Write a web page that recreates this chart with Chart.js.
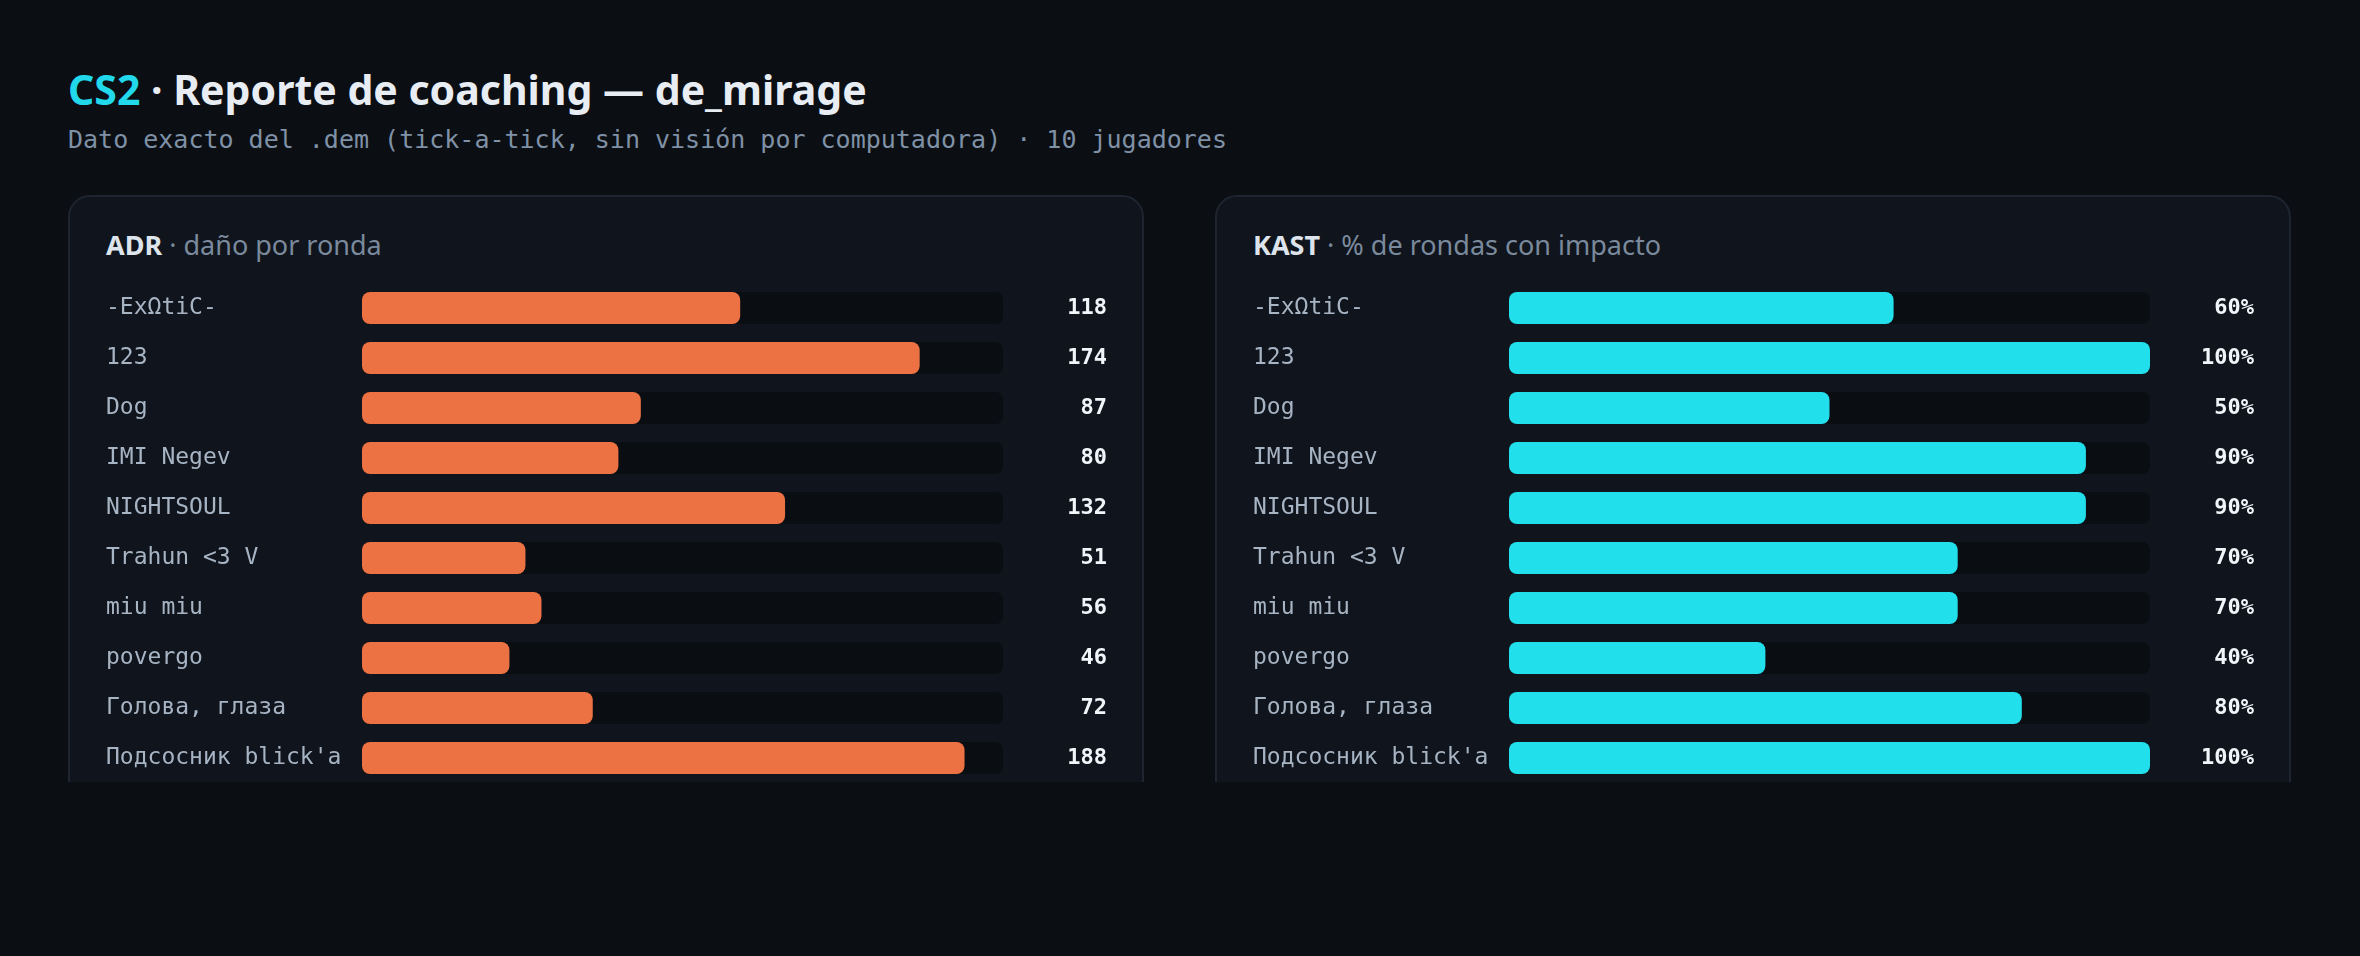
<!DOCTYPE html>
<html lang="es">
<head>
<meta charset="utf-8">
<title>CS2 · Reporte de coaching — de_mirage</title>
<script src="https://cdn.jsdelivr.net/npm/chart.js@4.4.1/dist/chart.umd.min.js"></script>
<style>
    html, body {
        margin: 0;
        padding: 0;
        background: #0b0e13;
        width: 2360px;
        height: 956px;
        overflow: hidden;
        font-family: "Noto Sans", sans-serif;
    }
    .title {
        position: absolute;
        left: 68px;
        top: 69px;
        font-size: 41px;
        line-height: 41px;
        font-weight: 700;
        color: #e8edf3;
        white-space: nowrap;
    }
    .title .accent { color: #22d9ec; }
    .subtitle {
        position: absolute;
        left: 68px;
        top: 127px;
        font-family: "DejaVu Sans Mono", monospace;
        font-size: 25px;
        line-height: 25px;
        color: #7f91a6;
        white-space: nowrap;
    }
    .clip {
        position: absolute;
        top: 195px;
        width: 1076px;
        height: 587px;
        overflow: hidden;
    }
    .card {
        position: relative;
        box-sizing: border-box;
        width: 1076px;
        height: 640px;
        background: #10141c;
        border: 2px solid #1e2530;
        border-radius: 22px;
    }
    .card h2 {
        position: absolute;
        left: 36px;
        top: 34px;
        margin: 0;
        font-size: 27px;
        line-height: 27px;
        font-weight: 400;
        color: #7a8a9c;
        white-space: nowrap;
    }
    .card h2 b { color: #dde4ec; font-weight: 700; }
    .chart-box {
        position: absolute;
        left: 36px;
        top: 86px;
        width: 1001px;
        height: 500px;
    }
</style>
</head>
<body>
<div class="title"><span class="accent">CS2</span> · Reporte de coaching — de_mirage</div>
<div class="subtitle">Dato exacto del .dem (tick-a-tick, sin visión por computadora) · 10 jugadores</div>

<div class="clip" style="left: 68px;">
    <div class="card">
        <h2><b>ADR</b> · daño por ronda</h2>
        <div class="chart-box"><canvas id="adrChart"></canvas></div>
    </div>
</div>

<div class="clip" style="left: 1215px;">
    <div class="card">
        <h2><b>KAST</b> · % de rondas con impacto</h2>
        <div class="chart-box"><canvas id="kastChart"></canvas></div>
    </div>
</div>

<script>
// Players, same order in both cards
const players = [
    '-ExΩtiC-',
    '123',
    'Dog',
    'IMI Negev',
    'NIGHTSOUL',
    'Trahun <3 V',
    'miu miu',
    'povergo',
    'Голова, глаза',
    "Подсосник blick'a"
];

// ADR (damage per round)
const adrValues = [118, 174, 87, 80, 132, 51, 56, 46, 72, 188];
const adrMax = 200;

// KAST (% of rounds with impact)
const kastValues = [60, 100, 50, 90, 90, 70, 70, 40, 80, 100];
const kastMax = 100;

const trackColor = '#0a0d12';
const labelColor = '#a7b4c4';
const valueColor = '#f1f5f9';

// Fix an axis to a set width and drop the label padding Chart.js adds top/bottom
function fixAxis(width) {
    return function(scale) {
        scale.width = width;
        scale.paddingTop = 0;
        scale.paddingBottom = 0;
    };
}

// Horizontal bar with a dark "track" behind each bar and the value on the right
function createBarCard(canvasId, values, max, color, valueLabels) {
    const ctx = document.getElementById(canvasId).getContext('2d');

    return new Chart(ctx, {
        type: 'bar',
        data: {
            labels: players,
            datasets: [
                {
                    label: 'value',
                    data: values,
                    backgroundColor: color,
                    borderRadius: 8,
                    borderSkipped: false
                },
                {
                    label: 'track',
                    data: players.map(() => max),
                    backgroundColor: trackColor,
                    borderRadius: 8,
                    borderSkipped: false
                }
            ]
        },
        options: {
            indexAxis: 'y',
            responsive: true,
            maintainAspectRatio: false,
            animation: false,
            layout: { padding: 0 },
            datasets: {
                bar: {
                    grouped: false,
                    categoryPercentage: 1,
                    barPercentage: 0.64
                }
            },
            plugins: {
                legend: { display: false },
                tooltip: { enabled: false }
            },
            scales: {
                x: {
                    display: false,
                    min: 0,
                    max: max
                },
                y: {
                    position: 'left',
                    grid: { display: false, drawTicks: false },
                    border: { display: false },
                    ticks: {
                        crossAlign: 'far',
                        color: labelColor,
                        padding: 0,
                        font: { family: 'DejaVu Sans Mono', size: 23 }
                    },
                    afterFit: fixAxis(256)
                },
                y2: {
                    type: 'category',
                    axis: 'y',
                    position: 'right',
                    labels: valueLabels,
                    offset: true,
                    grid: { display: false, drawTicks: false },
                    border: { display: false },
                    ticks: {
                        crossAlign: 'far',
                        color: valueColor,
                        padding: 0,
                        font: { family: 'DejaVu Sans Mono', size: 22, weight: 'bold' }
                    },
                    afterFit: fixAxis(104)
                }
            }
        }
    });
}

createBarCard('adrChart', adrValues, adrMax, '#ec7244', adrValues.map(v => String(v)));
createBarCard('kastChart', kastValues, kastMax, '#22dfec', kastValues.map(v => v + '%'));
</script>
</body>
</html>
